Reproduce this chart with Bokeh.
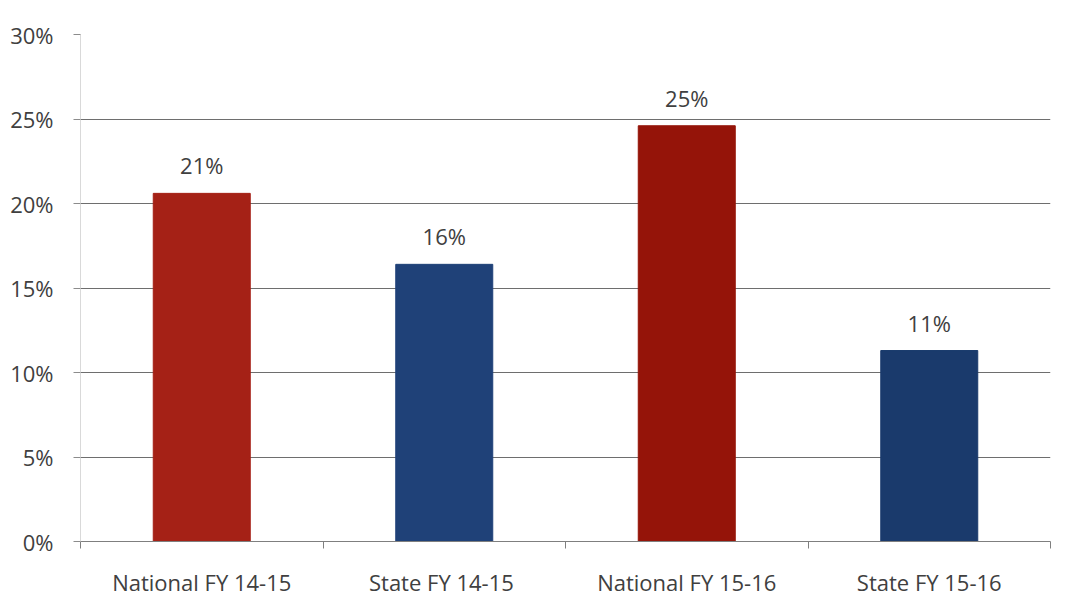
from bokeh.plotting import figure
from bokeh.models import (Range1d, FixedTicker, NumeralTickFormatter, ColumnDataSource,
                          LabelSet, LinearAxis, Grid)
from bokeh.core.properties import value
from bokeh.embed import file_html
from bokeh.resources import INLINE

categories = ["National FY 14-15", "State  FY 14-15", "National FY 15-16", "State FY 15-16"]
values = [0.206, 0.164, 0.246, 0.113]
bar_colors = ["#A52116", "#1F4178", "#951409", "#1A3A6C"]
y_ticks = [0.0, 0.05, 0.10, 0.15, 0.20, 0.25, 0.30]

xs = [i + 0.5 for i in range(len(categories))]
labels = [f"{round(v * 100):d}%" for v in values]
src = ColumnDataSource(dict(x=xs, top=values, color=bar_colors, label=labels))

FONT = "Open Sans"
FS = "22px"
TXT = "#404040"

p = figure(width=1060, height=600, output_backend="svg", toolbar_location=None,
           x_range=Range1d(0, len(categories)), y_range=Range1d(0, 0.30),
           x_axis_type=None, y_axis_type=None,
           min_border_left=80, min_border_right=10, min_border_top=34, min_border_bottom=59)
p.outline_line_color = None
p.background_fill_color = "white"
p.border_fill_color = "white"

# y axis
yax = LinearAxis(ticker=FixedTicker(ticks=y_ticks),
                 formatter=NumeralTickFormatter(format="0%"))
yax.axis_line_color = "#d9d9d9"
yax.major_tick_line_color = "#8c8c8c"
yax.major_tick_out = 7
yax.major_tick_in = 0
yax.minor_tick_line_color = None
yax.major_label_standoff = 20
yax.major_label_text_font = FONT
yax.major_label_text_font_size = FS
yax.major_label_text_color = TXT
p.add_layout(yax, "left")

# x axis
xax = LinearAxis(ticker=FixedTicker(ticks=xs, minor_ticks=list(range(len(categories) + 1))))
xax.major_label_overrides = {x: c for x, c in zip(xs, categories)}
xax.axis_line_color = "#7f7f7f"
xax.major_tick_line_color = None
xax.major_tick_out = 0
xax.major_tick_in = 0
xax.minor_tick_line_color = "#7f7f7f"
xax.minor_tick_out = 7
xax.minor_tick_in = 0
xax.major_label_standoff = 18
xax.major_label_text_font = FONT
xax.major_label_text_font_size = FS
xax.major_label_text_color = TXT
p.add_layout(xax, "below")

grid = Grid(dimension=1, ticker=FixedTicker(ticks=y_ticks),
            grid_line_color="#6e6e6e", grid_line_width=1)
p.add_layout(grid)

p.vbar(x="x", top="top", width=0.4, bottom=0, color="color", source=src)

lbl = LabelSet(x="x", y="top", text="label", source=src, text_align="center",
               text_baseline="bottom", y_offset=13, text_font=value(FONT),
               text_font_size=value(FS), text_color=TXT)
p.add_layout(lbl)

open("out.html", "w").write(file_html(p, INLINE))
